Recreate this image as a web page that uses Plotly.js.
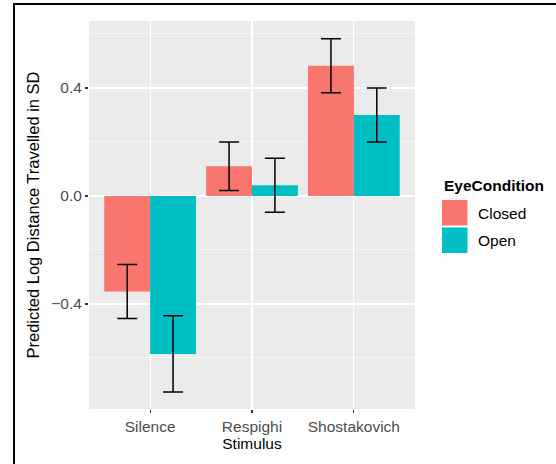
<!DOCTYPE html>
<html>
<head>
<meta charset="utf-8">
<script src="https://cdn.plot.ly/plotly-3.0.1.min.js"></script>
<style>
  html, body { margin: 0; padding: 0; background: #ffffff; }
  #wrap { position: relative; width: 556px; height: 464px; overflow: hidden; }
  #chart { position: absolute; left: 0; top: 0; width: 556px; height: 464px; }
  .bt { position: absolute; left: 13px; top: 3px; width: 543px; height: 2px; background: #000; }
  .bl { position: absolute; left: 13px; top: 3px; width: 2px; height: 461px; background: #000; }
</style>
</head>
<body>
<div id="wrap">
  <div id="chart"></div>
  <div class="bt"></div>
  <div class="bl"></div>
</div>
<script>
// ---- data ----
const stimuli = ["Silence", "Respighi", "Shostakovich"];
const closedValues = [-0.354, 0.110, 0.482];
const closedErrors = [0.100, 0.090, 0.100];
const openValues = [-0.585, 0.040, 0.300];
const openErrors = [0.141, 0.100, 0.100];
const seriesNames = ["Closed", "Open"];
const seriesColors = ["#F8766D", "#00BFC4"];
const yTickValues = [-0.4, 0.0, 0.4];
const yMinorValues = [-0.6, -0.2, 0.2, 0.6];

// ---- geometry helpers (pixel -> paper) ----
const L = 89, R = 415, T = 21, B = 409;
const px = x => (x - L) / (R - L);
const py = y => (B - y) / (B - T);

const FONT = "Liberation Sans, Arial, Helvetica, sans-serif";
const FS = 15.5;

const errStyle = { type: "data", visible: true, color: "#000000", thickness: 1.5, width: 10 };

const traces = [
  { type: "bar", name: seriesNames[0], x: stimuli, y: closedValues,
    marker: { color: seriesColors[0], line: { width: 0 } },
    error_y: Object.assign({ array: closedErrors }, errStyle), showlegend: false, hoverinfo: "none" },
  { type: "bar", name: seriesNames[1], x: stimuli, y: openValues,
    marker: { color: seriesColors[1], line: { width: 0 } },
    error_y: Object.assign({ array: openErrors }, errStyle), showlegend: false, hoverinfo: "none" }
];

// custom ggplot-like legend
const shapes = [];
const annotations = [];
const keyTop = [200, 227.5];
seriesNames.forEach((n, i) => {
  shapes.push({ type: "rect", xref: "paper", yref: "paper",
    x0: px(442), x1: px(467.5), y0: py(keyTop[i] + 25.5), y1: py(keyTop[i]),
    fillcolor: seriesColors[i], line: { width: 0 } });
  annotations.push({ xref: "paper", yref: "paper", x: px(476), y: py(keyTop[i] + 13),
    xanchor: "left", yanchor: "middle", showarrow: false, text: n,
    font: { family: FONT, size: FS, color: "#000000" } });
});
annotations.push({ xref: "paper", yref: "paper", x: px(441.5), y: py(185),
  xanchor: "left", yanchor: "middle", showarrow: false, text: "<b>EyeCondition</b>",
  font: { family: FONT, size: FS, color: "#000000" } });

const layout = {
  width: 556, height: 464,
  margin: { l: L, r: 556 - R, t: T, b: 464 - B, pad: 0 },
  paper_bgcolor: "#ffffff",
  plot_bgcolor: "#EBEBEB",
  barmode: "group", bargap: 0.1, bargroupgap: 0,
  showlegend: false,
  font: { family: FONT, size: FS, color: "#000000" },
  xaxis: {
    type: "category", range: [-0.6, 2.6],
    showgrid: true, gridcolor: "#ffffff", gridwidth: 1.1,
    ticks: "outside", ticklen: 3, tickwidth: 1.1, tickcolor: "#333333",
    tickfont: { family: FONT, size: FS, color: "#4D4D4D" },
    showline: false, zeroline: false,
    title: { text: "Stimulus", font: { family: FONT, size: FS, color: "#000000" }, standoff: 4 }
  },
  yaxis: {
    range: [-0.789, 0.648],
    tickvals: yTickValues, tickformat: ".1f",
    showgrid: true, gridcolor: "#ffffff", gridwidth: 1.1,
    minor: { tickvals: yMinorValues, showgrid: true, gridcolor: "#ffffff", gridwidth: 0.55 },
    ticks: "outside", ticklen: 3, tickwidth: 1.1, tickcolor: "#333333",
    tickfont: { family: FONT, size: FS, color: "#4D4D4D" },
    showline: false, zeroline: false,
    title: { text: "Predicted Log Distance Travelled in SD", font: { family: FONT, size: 16.5, color: "#000000" }, standoff: 7 }
  },
  shapes: shapes,
  annotations: annotations
};

Plotly.newPlot("chart", traces, layout, { displayModeBar: false, staticPlot: true });
</script>
</body>
</html>
